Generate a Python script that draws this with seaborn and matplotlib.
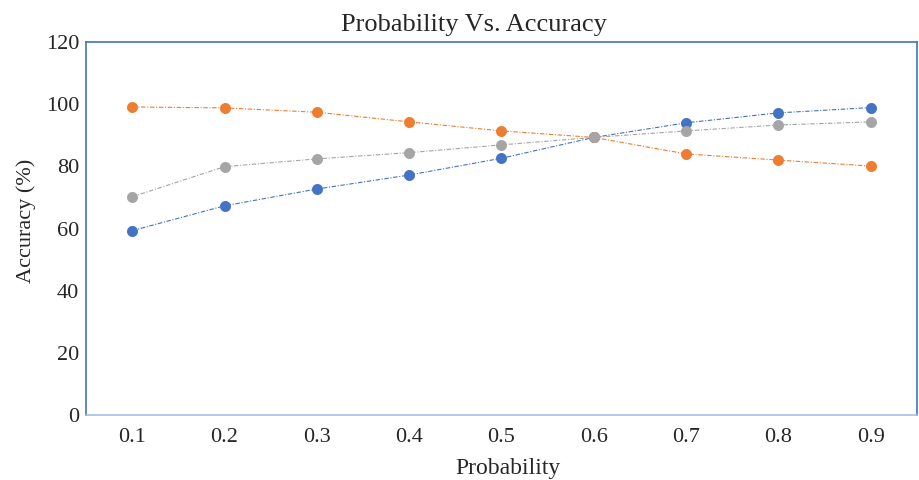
import matplotlib
matplotlib.use("Agg")
import matplotlib.pyplot as plt
import seaborn as sns
import pandas as pd

probability = ["0.1", "0.2", "0.3", "0.4", "0.5", "0.6", "0.7", "0.8", "0.9"]
series_blue = [59.3, 67.3, 72.7, 77.2, 82.6, 89.3, 94.0, 97.2, 98.9]
series_orange = [99.1, 98.8, 97.4, 94.3, 91.4, 89.3, 84.0, 82.0, 80.1]
series_gray = [70.2, 79.9, 82.4, 84.4, 86.9, 89.3, 91.4, 93.3, 94.3]
series_names = ["Series 1", "Series 2", "Series 3"]
colors = ["#4472C4", "#ED7D31", "#A5A5A5"]

df = pd.concat([
    pd.DataFrame({"Probability": probability, "Accuracy": vals, "Series": name})
    for name, vals in zip(series_names, [series_blue, series_orange, series_gray])
])

sns.set_theme(style="white")
plt.rcParams["font.family"] = ["Liberation Serif", "DejaVu Serif"]

fig, ax = plt.subplots(figsize=(9.19, 4.8), dpi=100)
fig.subplots_adjust(left=0.0936, right=0.9978, top=0.9125, bottom=0.1354)

sns.pointplot(
    data=df, x="Probability", y="Accuracy", hue="Series",
    order=probability, hue_order=series_names, palette=colors,
    markers="o", linestyles="-.", markersize=7.3, linewidth=0.8,
    errorbar=None, legend=False, ax=ax,
)
for line in ax.lines:
    line.set_dashes((4, 1.5, 1, 1.5))

ax.set_xlim(-0.5, len(probability) - 0.5)
ax.set_ylim(0, 120)
ax.set_yticks(range(0, 121, 20))
ax.tick_params(axis="both", labelsize=16, length=0)
ax.tick_params(axis="x", pad=9)
ax.tick_params(axis="y", pad=5)
ax.set_title("Probability Vs. Accuracy", fontsize=19, pad=8, x=0.467)
ax.set_xlabel("Probability", fontsize=17, labelpad=8, x=0.508)
ax.set_ylabel("Accuracy (%)", fontsize=16, labelpad=7, y=0.52)

for side in ["left", "top", "right"]:
    ax.spines[side].set_color("#4472C4")
    ax.spines[side].set_linewidth(1.2)
ax.spines["bottom"].set_color("#A9BCE3")
ax.spines["bottom"].set_linewidth(1.2)

fig.savefig("out.png", dpi=100)
